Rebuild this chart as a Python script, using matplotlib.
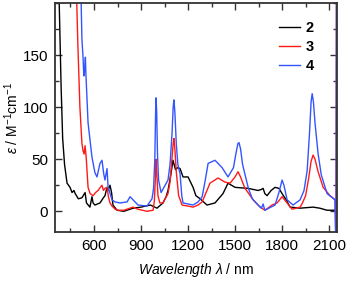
import numpy as np
import matplotlib
matplotlib.use("Agg")
import matplotlib.pyplot as plt
from matplotlib.ticker import MultipleLocator

# 数据
wl_2 = [365, 378, 390, 400, 412, 428, 447, 460, 472, 480, 500, 523, 543, 552, 574, 587, 594, 606, 638,
        660, 670, 683, 690, 702, 712, 721, 747, 790, 830, 850, 900, 960, 1002, 1040, 1060, 1072,
        1090, 1104, 1120, 1135, 1149, 1168, 1200, 1232, 1250, 1277, 1321, 1372, 1423, 1455, 1500,
        1583, 1647, 1668, 1679, 1690, 1704, 1730, 1755, 1780, 1800, 1830, 1851, 1915, 1998, 2040,
        2087, 2138, 2150]
eps_2 = [400, 200, 120, 70, 45, 27, 23, 18, 20, 17, 12, 13, 18, 8, 4, 14, 8, 6, 8,
         13, 15, 23, 20, 25, 18, 6, 1, 0, 2, 3, 4, 6, 3, 8, 14, 20,
         35, 49, 40, 42, 41, 33, 33, 23, 15, 12, 6, 8, 17, 27, 23,
         22, 20, 21, 22, 17, 15, 20, 23, 22, 17, 10, 4, 3, 4, 3,
         1, 1, 1]

wl_3 = [480, 490, 497, 510, 523, 530, 537, 543, 550, 562, 575, 594, 610, 626, 640, 651, 660, 670,
        683, 692, 702, 715, 735, 753, 790, 830, 849, 880, 938, 977, 985, 991, 996, 1001, 1008,
        1020, 1040, 1072, 1085, 1097, 1105, 1110, 1116, 1125, 1140, 1162, 1200, 1232, 1264, 1290,
        1340, 1391, 1436, 1468, 1500, 1519, 1535, 1550, 1564, 1615, 1660, 1691, 1736, 1768, 1800,
        1832, 1864, 1915, 1930, 1950, 1970, 1985, 1998, 2010, 2030, 2062, 2106, 2138, 2144, 2148]
eps_3 = [230, 200, 160, 100, 65, 58, 55, 63, 52, 23, 17, 15, 18, 20, 23, 25, 20, 22,
         23, 14, 8, 5, 2, 1, 1, 3, 4, 2, 0, 1, 10, 30, 50, 35, 15,
         8, 8, 17, 28, 50, 65, 70, 60, 38, 15, 6, 5, 4, 6, 9,
         27, 32, 28, 27, 33, 38, 33, 27, 22, 11, 4, 1, 6, 8, 14,
         8, 2, 4, 8, 15, 32, 48, 54, 50, 38, 23, 15, 11, -40, 300]

wl_4 = [508, 518, 523, 530, 535, 540, 545, 548, 562, 587, 606, 619, 638, 651, 662, 670, 683, 690,
        715, 734, 766, 811, 830, 849, 881, 938, 970, 980, 988, 993, 996, 1000, 1005, 1012, 1028,
        1072, 1085, 1098, 1105, 1110, 1116, 1125, 1135, 1149, 1160, 1168, 1232, 1264, 1290, 1310,
        1328, 1372, 1417, 1455, 1490, 1505, 1518, 1525, 1535, 1548, 1564, 1585, 1610, 1647, 1668,
        1679, 1690, 1755, 1780, 1800, 1812, 1832, 1870, 1915, 1940, 1960, 1975, 1985, 1992, 2000,
        2010, 2030, 2050, 2087, 2138, 2144, 2148]
eps_4 = [240, 200, 165, 148, 130, 135, 148, 133, 85, 52, 37, 33, 46, 49, 36, 30, 41, 23,
         11, 9, 8, 9, 14, 11, 6, 5, 12, 22, 50, 95, 109, 95, 55, 30, 18,
         30, 45, 75, 100, 107, 95, 65, 45, 36, 15, 8, 6, 9, 14, 30,
         46, 49, 42, 33, 42, 55, 65, 66, 60, 45, 35, 22, 12, 6, 3,
         7, 1, 6, 18, 30, 25, 11, 6, 11, 20, 39, 75, 105, 113, 105,
         85, 55, 35, 17, 11, -40, 300]

plt.rcParams['font.family'] = ['Liberation Sans', 'DejaVu Sans']
plt.rcParams['mathtext.fontset'] = 'custom'
plt.rcParams['mathtext.rm'] = 'Liberation Sans'
plt.rcParams['mathtext.it'] = 'Liberation Sans:italic'
plt.rcParams['mathtext.bf'] = 'Liberation Sans:bold'
plt.rcParams['font.size'] = 10

fig = plt.figure(figsize=(3.47, 2.81), dpi=100)
ax = fig.add_axes([0.158, 0.174, 0.813, 0.815])

ax.plot(wl_2, eps_2, color="black", lw=1.0, label="2")
ax.plot(wl_3, eps_3, color="#ff1a1a", lw=1.0, label="3")
ax.plot(wl_4, eps_4, color="#3355ff", lw=1.0, label="4")

ax.set_xlim(350, 2150)
ax.set_ylim(-20, 200)
ax.set_xticks([600, 900, 1200, 1500, 1800, 2100])
ax.set_yticks([0, 50, 100, 150])
ax.xaxis.set_minor_locator(MultipleLocator(150))
ax.yaxis.set_minor_locator(MultipleLocator(25))
ax.tick_params(which="both", direction="in", top=True, right=True, width=1.0, color="#333333",
               labelsize=11)
ax.tick_params(which="major", length=5)
ax.tick_params(which="minor", length=3)
ax.tick_params(axis="x", which="major", pad=5)
ax.tick_params(axis="y", which="major", pad=5)
for s in ax.spines.values():
    s.set_linewidth(1.3)
    s.set_color("#333333")

ax.set_xlabel(r"$Wavelength\ \lambda$ / nm", fontsize=10, labelpad=6)
ax.set_ylabel(r"$\varepsilon$ / M$^{-1}$cm$^{-1}$", fontsize=10, labelpad=1)

leg = ax.legend(loc="upper right", frameon=False, handlelength=1.4, handletextpad=0.4,
                labelspacing=0.35, bbox_to_anchor=(0.965, 0.98), prop={"weight": "bold", "size": 10.5})

fig.savefig("out.png", dpi=100)
